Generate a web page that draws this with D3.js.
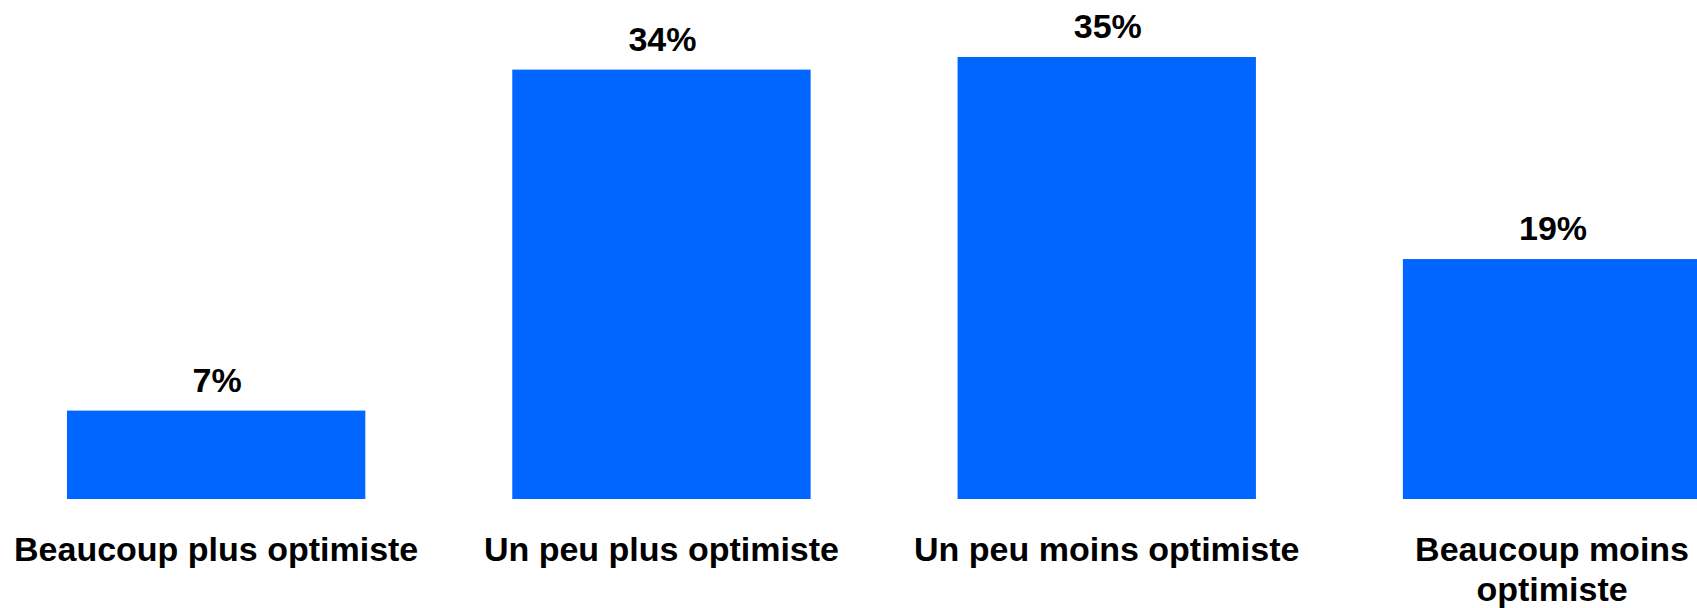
<!DOCTYPE html>
<html>
<head>
<meta charset="utf-8">
<script src="https://cdn.jsdelivr.net/npm/d3@7"></script>
<style>
  html, body { margin: 0; padding: 0; background: #fff; overflow: hidden; }
  text { font-family: "Liberation Sans", Arial, sans-serif; font-weight: bold; fill: #000; }
</style>
</head>
<body>
<div id="chart"></div>
<script>
var width = 1697, height = 608;

var categories = ['Beaucoup plus optimiste', 'Un peu plus optimiste', 'Un peu moins optimiste', 'Beaucoup moins optimiste'];
var values = [7, 34, 35, 19];

var data = categories.map(function(c, i) { return {label: c, value: values[i]}; });

var svg = d3.select('#chart').append('svg')
  .attr('width', width)
  .attr('height', height);

// band step ~445px, bars ~298px wide; last bar runs off the right edge
var x = d3.scaleBand()
  .domain(categories)
  .range([-6.5, 1774.7])
  .paddingInner(0.33)
  .paddingOuter(0.165);

var y = d3.scaleLinear()
  .domain([0, 35])
  .range([499, 57]);

svg.selectAll('rect')
  .data(data).enter()
  .append('rect')
    .attr('x', function(d) { return x(d.label); })
    .attr('y', function(d) { return y(d.value); })
    .attr('width', x.bandwidth())
    .attr('height', function(d) { return y(0) - y(d.value); })
    .attr('fill', '#0066ff');

svg.selectAll('text.value')
  .data(data).enter()
  .append('text')
    .attr('class', 'value')
    .attr('x', function(d) { return x(d.label) + x.bandwidth() / 2 + 1; })
    .attr('y', function(d) { return y(d.value) - 19; })
    .attr('text-anchor', 'middle')
    .style('font-size', '34px')
    .text(function(d) { return d.value + '%'; });

var labels = svg.selectAll('text.cat')
  .data(data).enter()
  .append('text')
    .attr('class', 'cat')
    .attr('text-anchor', 'middle')
    .attr('y', 561)
    .style('font-size', '34px')
    .each(function(d) {
      var cx = x(d.label) + x.bandwidth() / 2;
      var el = d3.select(this).attr('x', cx);
      // wrap the label when it would spill past the right edge
      var words = d.label.split(' '), lines = [], line = [];
      var t = el.append('tspan').attr('x', cx);
      words.forEach(function(w) {
        line.push(w);
        t.text(line.join(' '));
        if (cx + t.node().getComputedTextLength() / 2 > width && line.length > 1) {
          line.pop();
          lines.push(line.join(' '));
          line = [w];
        }
      });
      lines.push(line.join(' '));
      t.remove();
      lines.forEach(function(l, i) {
        el.append('tspan')
          .attr('x', cx)
          .attr('dy', i ? 40 : 0)
          .text(l);
      });
    });
</script>
</body>
</html>
